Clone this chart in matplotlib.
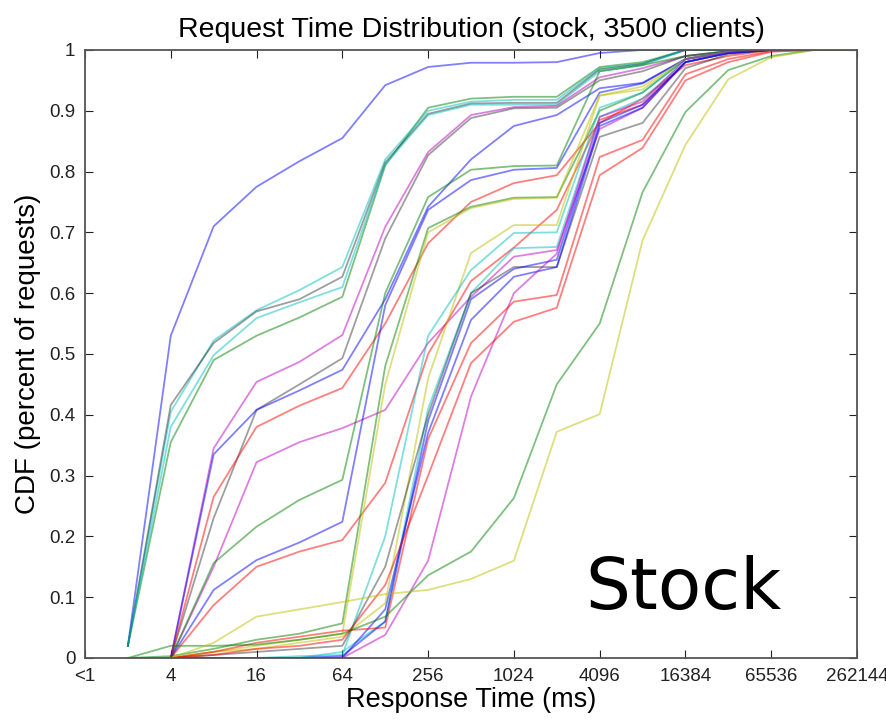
import matplotlib
matplotlib.use("Agg")
import matplotlib.pyplot as plt
import numpy as np

plt.rcParams['font.family'] = ['Liberation Sans', 'DejaVu Sans']

# response time buckets (ms): 2, 4, 8, ... 262144
times = 2 ** np.arange(1, 19)

tick_pos = [1, 4, 16, 64, 256, 1024, 4096, 16384, 65536, 262144]
tick_labels = ['<1', '4', '16', '64', '256', '1024', '4096', '16384', '65536', '262144']
y_ticks = [0, 0.1, 0.2, 0.3, 0.4, 0.5, 0.6, 0.7, 0.8, 0.9, 1]
y_tick_labels = ['0', '0.1', '0.2', '0.3', '0.4', '0.5', '0.6', '0.7', '0.8', '0.9', '1']

# one CDF per client group
fast_blue  = [0.02, 0.53, 0.71, 0.775, 0.817, 0.855, 0.942, 0.972, 0.979, 0.979, 0.98, 0.995, 1, 1, 1, 1, 1, 1]
fast_green = [0.02, 0.355, 0.49, 0.53, 0.56, 0.594, 0.81, 0.905, 0.92, 0.923, 0.923, 0.972, 0.98, 1, 1, 1, 1, 1]
fast_cyan  = [0.02, 0.405, 0.522, 0.572, 0.605, 0.643, 0.82, 0.9, 0.915, 0.918, 0.918, 0.97, 0.978, 1, 1, 1, 1, 1]
fast_gray  = [0.02, 0.416, 0.518, 0.57, 0.59, 0.627, 0.815, 0.895, 0.912, 0.913, 0.913, 0.968, 0.977, 1, 1, 1, 1, 1]
fast_cyan2 = [0.02, 0.38, 0.498, 0.559, 0.585, 0.61, 0.812, 0.893, 0.91, 0.91, 0.91, 0.965, 0.975, 1, 1, 1, 1, 1]

mid_magenta  = [0, 0.0, 0.345, 0.454, 0.487, 0.531, 0.709, 0.832, 0.893, 0.906, 0.908, 0.955, 0.97, 0.99, 0.998, 1, 1, 1]
mid_gray     = [0, 0.0, 0.23, 0.408, 0.45, 0.493, 0.69, 0.827, 0.888, 0.904, 0.905, 0.95, 0.965, 0.99, 0.998, 1, 1, 1]
mid_blue     = [0, 0.0, 0.335, 0.408, 0.44, 0.474, 0.59, 0.742, 0.82, 0.875, 0.893, 0.937, 0.946, 0.985, 0.997, 1, 1, 1]
mid_red      = [0, 0.0, 0.265, 0.38, 0.415, 0.444, 0.55, 0.682, 0.75, 0.781, 0.794, 0.88, 0.92, 0.975, 0.99, 1, 1, 1]
mid_magenta2 = [0, 0.0, 0.15, 0.322, 0.355, 0.378, 0.408, 0.518, 0.594, 0.66, 0.671, 0.87, 0.905, 0.98, 0.995, 1, 1, 1]
mid_green    = [0, 0.0, 0.156, 0.216, 0.26, 0.293, 0.6, 0.758, 0.803, 0.809, 0.81, 0.965, 0.975, 0.99, 0.998, 1, 1, 1]
mid_blue2    = [0, 0.0, 0.112, 0.161, 0.19, 0.224, 0.58, 0.737, 0.786, 0.803, 0.806, 0.93, 0.945, 0.985, 0.997, 1, 1, 1]
mid_red2     = [0, 0.0, 0.087, 0.15, 0.175, 0.194, 0.288, 0.5, 0.62, 0.675, 0.737, 0.885, 0.91, 0.98, 0.995, 1, 1, 1]

late_green   = [0, 0.003, 0.015, 0.03, 0.04, 0.057, 0.48, 0.707, 0.742, 0.757, 0.758, 0.9, 0.93, 0.985, 0.997, 1, 1, 1]
late_yellow  = [0, 0.0, 0.01, 0.02, 0.03, 0.04, 0.45, 0.70, 0.74, 0.755, 0.757, 0.925, 0.94, 0.985, 0.997, 1, 1, 1]
late_yellow2 = [0, 0, 0.01, 0.015, 0.025, 0.035, 0.09, 0.46, 0.666, 0.712, 0.712, 0.925, 0.935, 0.985, 0.997, 1, 1, 1]
late_cyan    = [0, 0, 0, 0.0, 0.003, 0.005, 0.2, 0.53, 0.638, 0.699, 0.70, 0.905, 0.93, 0.985, 0.997, 1, 1, 1]
late_cyan2   = [0, 0, 0, 0, 0, 0.01, 0.06, 0.41, 0.6, 0.674, 0.676, 0.89, 0.92, 0.98, 0.995, 1, 1, 1]
late_gray    = [0, 0, 0.005, 0.01, 0.015, 0.02, 0.15, 0.40, 0.6, 0.643, 0.643, 0.857, 0.88, 0.97, 0.993, 1, 1, 1]
late_blue    = [0, 0, 0, 0, 0, 0.0, 0.08, 0.37, 0.556, 0.627, 0.643, 0.875, 0.905, 0.98, 0.995, 1, 1, 1]
late_blue2   = [0, 0, 0, 0, 0, 0.003, 0.06, 0.39, 0.59, 0.64, 0.655, 0.88, 0.91, 0.98, 0.995, 1, 1, 1]
late_magenta = [0, 0, 0, 0, 0, 0.0, 0.038, 0.16, 0.43, 0.6, 0.665, 0.89, 0.915, 0.985, 0.997, 1, 1, 1]
late_red     = [0, 0, 0.01, 0.025, 0.035, 0.045, 0.05, 0.36, 0.518, 0.586, 0.597, 0.824, 0.852, 0.96, 0.985, 0.998, 1, 1]
late_red2    = [0, 0, 0.005, 0.015, 0.02, 0.03, 0.12, 0.30, 0.485, 0.553, 0.576, 0.794, 0.839, 0.95, 0.98, 0.997, 1, 1]

slow_green  = [0, 0.02, 0.02, 0.022, 0.03, 0.04, 0.068, 0.136, 0.175, 0.263, 0.45, 0.55, 0.766, 0.898, 0.967, 0.99, 1, 1]
slow_yellow = [0, 0.0, 0.025, 0.068, 0.08, 0.092, 0.105, 0.112, 0.13, 0.16, 0.372, 0.401, 0.687, 0.844, 0.952, 0.988, 1, 1]

series = [
    (fast_blue, 'b'), (fast_green, 'g'), (fast_cyan, 'c'), (fast_gray, 'k'), (fast_cyan2, 'c'),
    (mid_magenta, 'm'), (mid_gray, 'k'), (mid_blue, 'b'), (mid_red, 'r'), (mid_magenta2, 'm'),
    (mid_green, 'g'), (mid_blue2, 'b'), (mid_red2, 'r'),
    (late_green, 'g'), (late_yellow, 'y'), (late_yellow2, 'y'), (late_cyan, 'c'), (late_cyan2, 'c'),
    (late_gray, 'k'), (late_blue, 'b'), (late_blue2, 'b'), (late_magenta, 'm'), (late_red, 'r'),
    (late_red2, 'r'), (slow_green, 'g'), (slow_yellow, 'y'),
]

fig = plt.figure(figsize=(8.87, 7.21), dpi=100)
ax = fig.add_axes([0.0958, 0.0874, 0.8704, 0.8433])

for vals, col in series:
    # black lines look like light gray in the original
    a = 0.38 if col == 'k' else 0.5
    ax.plot(times, vals, color=col, alpha=a, linewidth=1.3)

ax.set_xscale('log', base=2)
ax.set_xlim(1, 262144)
ax.set_ylim(0, 1)
ax.set_xticks(tick_pos)
ax.set_xticklabels(tick_labels)
ax.minorticks_off()
ax.set_yticks(y_ticks)
ax.set_yticklabels(y_tick_labels)
ax.tick_params(direction='in', length=6, top=True, right=True, labelsize=13.5, colors='#222222', pad=7)
for s in ax.spines.values():
    s.set_color('#555555')
    s.set_linewidth(1.3)

ax.set_title('Request Time Distribution (stock, 3500 clients)', fontsize=20.5, pad=9)
ax.set_xlabel('Response Time (ms)', fontsize=19.5, labelpad=2)
ax.set_ylabel('CDF (percent of requests)', fontsize=20, labelpad=6)

ax.text(2 ** 11.66, 0.08, 'Stock', fontsize=51, family='DejaVu Sans', ha='left', va='baseline')

fig.savefig('out.png', dpi=100)
